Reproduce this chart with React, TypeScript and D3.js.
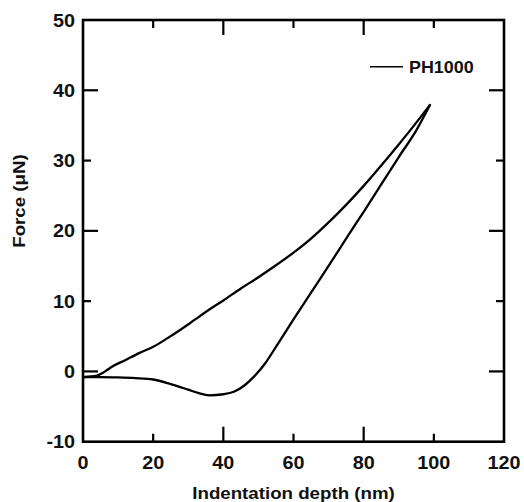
import React from "react";
import * as d3 from "d3";

const loadDepth = [0, 4, 6, 8, 12, 16, 20, 24, 28, 32, 36, 40, 45, 50, 55, 60, 65, 70, 75, 80, 85, 90, 95, 99];
const loadForce = [-0.8, -0.6, -0.1, 0.6, 1.6, 2.6, 3.5, 4.7, 6.0, 7.4, 8.8, 10.1, 11.8, 13.4, 15.1, 16.9, 18.9, 21.2, 23.7, 26.4, 29.3, 32.3, 35.4, 38.0];

const unloadDepth = [0, 5, 10, 15, 20, 25, 30, 33, 36, 40, 43, 46, 49, 52, 55, 60, 65, 70, 75, 80, 85, 90, 95, 99];
const unloadForce = [-0.8, -0.8, -0.85, -0.95, -1.15, -1.8, -2.6, -3.1, -3.4, -3.25, -2.9, -2.0, -0.6, 1.2, 3.5, 7.4, 11.2, 15.0, 18.9, 22.7, 26.6, 30.5, 34.3, 38.0];

const xTicks = [0, 20, 40, 60, 80, 100, 120];
const xLongTicks = [40, 80];
const xShortTicks = [20, 60, 100];
const yTicks = [-10, 0, 10, 20, 30, 40, 50];
const yLongTicks = [0, 20, 40];
const yShortTicks = [10, 30];

const seriesName = "PH1000";
const xTitle = "Indentation depth (nm)";
const yTitle = "Force (\u03bcN)";

export default function App() {
  const W = 524, H = 502;
  const x = d3.scaleLinear().domain([0, 120]).range([83, 504]);
  const y = d3.scaleLinear().domain([-10, 50]).range([441.7, 20]);
  const line = d3.line<[number, number]>().x(d => x(d[0])).y(d => y(d[1])).curve(d3.curveMonotoneX);
  const loadPts = loadDepth.map((d, i) => [d, loadForce[i]] as [number, number]);
  const unloadPts = unloadDepth.map((d, i) => [d, unloadForce[i]] as [number, number]);
  const font = "Liberation Sans, Arial, sans-serif";
  const longLen = 15, shortLen = 8;
  const [x0, x1] = x.range();
  const [y0, y1] = y.range();
  return (
    <svg width={W} height={H} style={{ position: "absolute", left: 0, top: 0, background: "#fff" }}>
      <rect x={0} y={0} width={W} height={H} fill="#fff" />
      <path d={line(loadPts) || ""} fill="none" stroke="#000" strokeWidth={2.3} strokeLinejoin="round" />
      <path d={line(unloadPts) || ""} fill="none" stroke="#000" strokeWidth={2.3} strokeLinejoin="round" />
      <rect x={x0} y={y1} width={x1 - x0} height={y0 - y1} fill="none" stroke="#000" strokeWidth={2.6} />
      {xLongTicks.map(t => (
        <g key={"xl" + t}>
          <line x1={x(t)} x2={x(t)} y1={y0} y2={y0 - longLen} stroke="#000" strokeWidth={2.2} />
          <line x1={x(t)} x2={x(t)} y1={y1} y2={y1 + longLen} stroke="#000" strokeWidth={2.2} />
        </g>
      ))}
      {xShortTicks.map(t => (
        <g key={"xs" + t}>
          <line x1={x(t)} x2={x(t)} y1={y0} y2={y0 - shortLen} stroke="#000" strokeWidth={2.2} />
          <line x1={x(t)} x2={x(t)} y1={y1} y2={y1 + shortLen} stroke="#000" strokeWidth={2.2} />
        </g>
      ))}
      {yLongTicks.map(t => (
        <g key={"yl" + t}>
          <line x1={x0} x2={x0 + longLen} y1={y(t)} y2={y(t)} stroke="#000" strokeWidth={2.2} />
          <line x1={x1} x2={x1 - longLen} y1={y(t)} y2={y(t)} stroke="#000" strokeWidth={2.2} />
        </g>
      ))}
      {yShortTicks.map(t => (
        <g key={"ys" + t}>
          <line x1={x0} x2={x0 + shortLen} y1={y(t)} y2={y(t)} stroke="#000" strokeWidth={2.2} />
          <line x1={x1} x2={x1 - shortLen} y1={y(t)} y2={y(t)} stroke="#000" strokeWidth={2.2} />
        </g>
      ))}
      {xTicks.map(t => (
        <g key={"xt" + t} transform={`translate(${x(t)},469) scale(1.1,1)`}>
          <text textAnchor="middle" fontFamily={font} fontSize={18} fontWeight="bold" fill="#111">{t}</text>
        </g>
      ))}
      {yTicks.map(t => (
        <g key={"yt" + t} transform={`translate(75,${y(t) + 6.5}) scale(1.1,1)`}>
          <text textAnchor="end" fontFamily={font} fontSize={18} fontWeight="bold" fill="#111">{t}</text>
        </g>
      ))}
      <g transform={`translate(${(x0 + x1) / 2},499) scale(1.1,1)`}>
        <text textAnchor="middle" fontFamily={font} fontSize={17} fontWeight="bold" fill="#111">{xTitle}</text>
      </g>
      <g transform={`translate(25,201) rotate(-90) scale(1.1,1)`}>
        <text textAnchor="middle" fontFamily={font} fontSize={17} fontWeight="bold" fill="#111">{yTitle}</text>
      </g>
      <line x1={370} x2={403} y1={66.7} y2={66.7} stroke="#000" strokeWidth={1.6} />
      <g transform="translate(409,72.5) scale(1.12,1)">
        <text fontFamily={font} fontSize={16} fontWeight="bold" fill="#111">{seriesName}</text>
      </g>
    </svg>
  );
}
